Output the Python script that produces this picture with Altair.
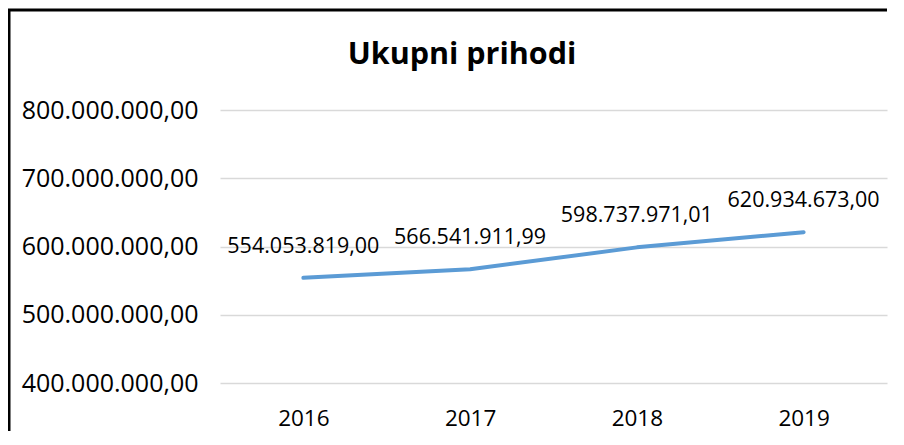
import altair as alt
import pandas as pd

years = ["2016", "2017", "2018", "2019"]
values = [554053819.00, 566541911.99, 598737971.01, 620934673.00]
y_ticks = [400000000, 500000000, 600000000, 700000000, 800000000]
title_text = "Ukupni prihodi"

df = pd.DataFrame({"year": years, "value": values})

FONT = "Open Sans"
W, H = 667, 273

x_enc = alt.X(
    "year:O",
    sort=years,
    scale=alt.Scale(type="point", padding=0.5),
    axis=alt.Axis(
        title=None, labelAngle=0, domain=False, ticks=False, grid=False,
        labelPadding=24, labelFontSize=22.5, labelFont=FONT, labelColor="#000000",
    ),
)
y_enc = alt.Y(
    "value:Q",
    scale=alt.Scale(domain=[400000000, 800000000], nice=False, zero=False),
    axis=alt.Axis(
        title=None, values=y_ticks, format=",.2f", domain=False, ticks=False,
        grid=True, gridColor="#d9d9d9", gridWidth=1.3,
        labelPadding=22, labelFontSize=25, labelFont=FONT, labelColor="#000000",
    ),
)

base = alt.Chart(df).encode(x=x_enc, y=y_enc)

line = base.mark_line(color="#5B9BD5", strokeWidth=4, strokeCap="round", strokeJoin="round")
labels = base.mark_text(dy=-25, fontSize=21.5, font=FONT, color="#000000", baseline="alphabetic").encode(
    text=alt.Text("value:Q", format=",.2f")
)

one = pd.DataFrame({"a": [0]})
border_left = alt.Chart(one).mark_rule(color="#000000", strokeWidth=3).encode(
    x=alt.value(-211), y=alt.value(-101), y2=alt.value(H + 60)
)
border_top = alt.Chart(one).mark_rule(color="#000000", strokeWidth=3).encode(
    y=alt.value(-100), x=alt.value(-213), x2=alt.value(W)
)
title = alt.Chart(pd.DataFrame({"t": [title_text]})).mark_text(
    fontSize=30.5, fontWeight="bold", font=FONT, color="#000000",
    align="center", baseline="alphabetic",
).encode(text="t:N", x=alt.value(242), y=alt.value(-46))

chart = alt.layer(line, labels, border_left, border_top, title).properties(
    width=W,
    height=H,
    autosize=alt.AutoSizeParams(type="none"),
    padding={"left": 212, "top": 102, "right": 5, "bottom": 48},
    background="#ffffff",
).configure_view(stroke="transparent", strokeWidth=0)

chart.save(
    "out.html",
    embed_options={
        "renderer": "svg",
        "actions": False,
        "formatLocale": {"decimal": ",", "thousands": ".", "grouping": [3], "currency": ["", ""]},
    },
)
